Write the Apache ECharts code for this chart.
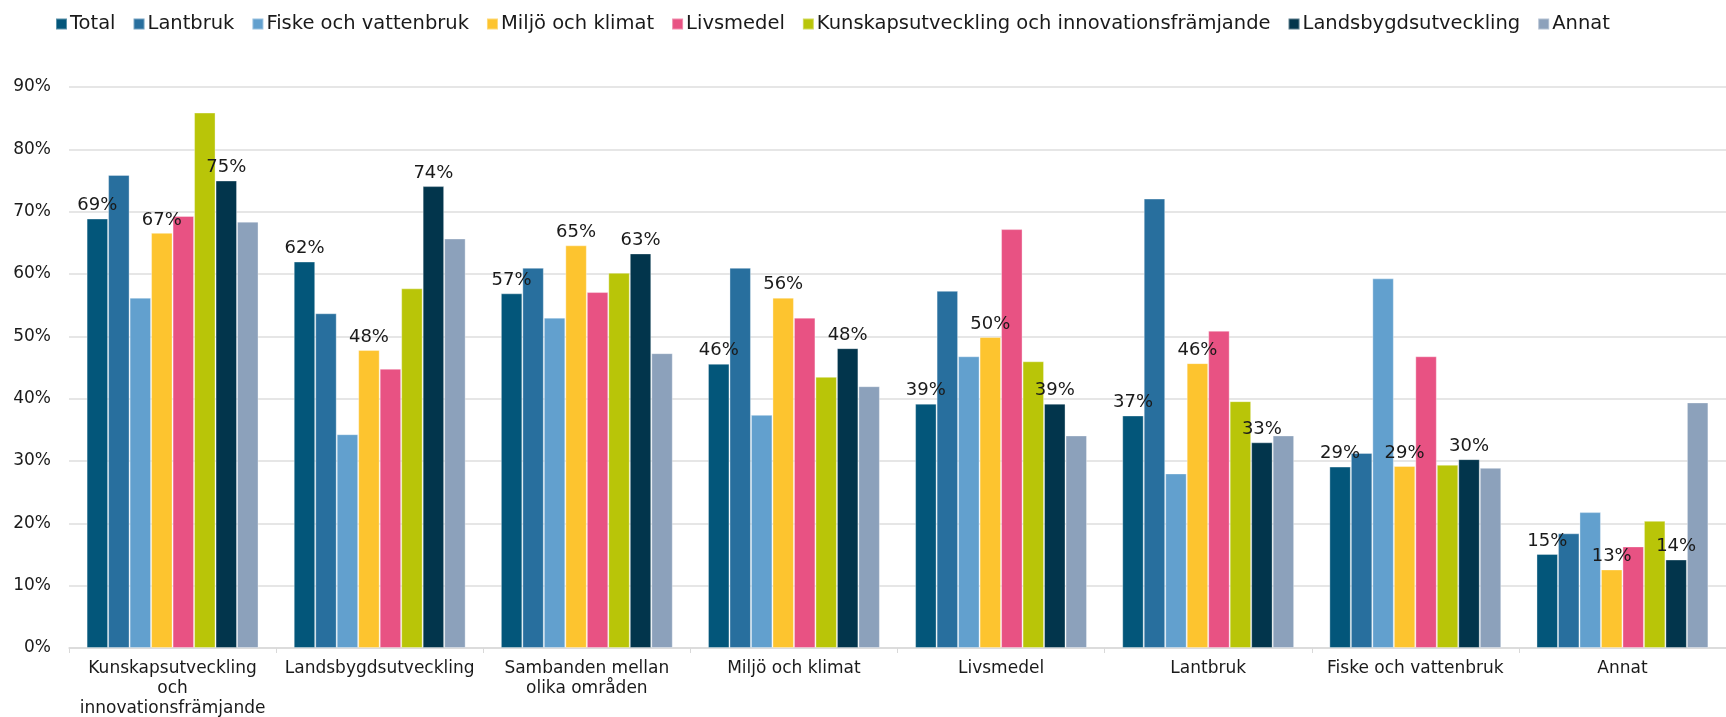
<!DOCTYPE html>
<html>
<head>
<meta charset="utf-8">
<script src="https://cdn.jsdelivr.net/npm/echarts@6/dist/echarts.min.js"></script>
<style>
  html, body { margin: 0; padding: 0; background: #fff; }
  #main { width: 1726px; height: 717px; }
</style>
</head>
<body>
<div id="main"></div>
<script>
var categories = ['Kunskapsutveckling och innovationsfrämjande', 'Landsbygdsutveckling',
    'Sambanden mellan olika områden', 'Miljö och klimat', 'Livsmedel', 'Lantbruk',
    'Fiske och vattenbruk', 'Annat'];
var wrapped = {
    'Kunskapsutveckling och innovationsfrämjande': 'Kunskapsutveckling\noch\ninnovationsfrämjande',
    'Sambanden mellan olika områden': 'Sambanden mellan\nolika områden'
};
var seriesNames = ['Total', 'Lantbruk', 'Fiske och vattenbruk', 'Miljö och klimat', 'Livsmedel',
    'Kunskapsutveckling och innovationsfrämjande', 'Landsbygdsutveckling', 'Annat'];
var colors = ['#03567a', '#286f9e', '#62a0ce', '#fdc42f', '#e85283', '#b9c508', '#02354c', '#8ca1bb'];

var total      = [68.9, 62.0, 56.9, 45.6, 39.2, 37.3, 29.1, 15.1];
var lantbruk   = [75.9, 53.7, 61.0, 61.0, 57.3, 72.1, 31.3, 18.4];
var fiske      = [56.2, 34.3, 53.0, 37.4, 46.8, 28.0, 59.3, 21.8];
var miljo      = [66.6, 47.8, 64.6, 56.2, 49.9, 45.7, 29.2, 12.6];
var livsmedel  = [69.3, 44.8, 57.1, 53.0, 67.2, 50.9, 46.8, 16.3];
var kunskap    = [85.9, 57.7, 60.2, 43.5, 46.0, 39.6, 29.4, 20.4];
var landsbygd  = [75.0, 74.1, 63.3, 48.1, 39.2, 33.0, 30.3, 14.2];
var annat      = [68.4, 65.7, 47.3, 42.0, 34.1, 34.1, 28.9, 39.4];

var values = [total, lantbruk, fiske, miljo, livsmedel, kunskap, landsbygd, annat];
var labelled = [true, false, false, true, false, false, true, false];

var font = 'DejaVu Sans';
var chart = echarts.init(document.getElementById('main'));

var series = seriesNames.map(function (name, i) {
    return {
        name: name,
        type: 'bar',
        data: values[i],
        barGap: '0%',
        barCategoryGap: '17%',
        itemStyle: { color: colors[i], borderColor: 'rgba(255,255,255,0.35)', borderWidth: 1 },
        label: {
            show: labelled[i],
            position: 'top',
            distance: 4,
            color: '#1a1a1a',
            fontFamily: font,
            fontSize: 18,
            formatter: function (p) { return Math.round(p.value) + '%'; }
        }
    };
});

var option = {
    backgroundColor: '#fff',
    animation: false,
    legend: {
        left: 50,
        top: 9,
        itemWidth: 11,
        itemHeight: 11,
        itemGap: 17,
        icon: 'rect',
        textStyle: { fontFamily: font, fontSize: 19.5, color: '#1a1a1a', padding: [0, 0, 0, -2] },
        data: seriesNames
    },
    grid: { left: 69, right: 0, top: 87, bottom: 69, containLabel: false, outerBoundsMode: 'none' },
    xAxis: {
        type: 'category',
        data: categories,
        axisLine: { lineStyle: { color: '#d9d9d9', width: 1.5 } },
        axisTick: { show: true, length: 5, lineStyle: { color: '#d9d9d9' } },
        axisLabel: {
            interval: 0,
            margin: 11,
            lineHeight: 20,
            fontFamily: font,
            fontSize: 17,
            color: '#1a1a1a',
            formatter: function (v) { return wrapped[v] || v; }
        }
    },
    yAxis: {
        type: 'value',
        min: 0,
        max: 90,
        interval: 10,
        axisLine: { show: false },
        axisTick: { show: false },
        splitLine: { lineStyle: { color: '#dedede', width: 1.5 } },
        axisLabel: { margin: 18, fontFamily: font, fontSize: 17, color: '#1a1a1a', formatter: '{value}%' }
    },
    series: series
};

chart.setOption(option);
</script>
</body>
</html>
